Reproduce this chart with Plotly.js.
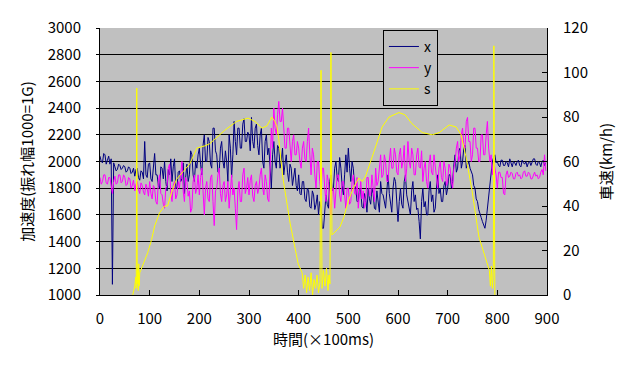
<!DOCTYPE html>
<html>
<head>
<meta charset="utf-8">
<script src="https://cdn.plot.ly/plotly-3.0.1.min.js"></script>
<style>html,body{margin:0;padding:0;background:#fff;}#chart{width:636px;height:378px;}</style>
</head>
<body>
<div id="chart"></div>
<script>
// sampling of the acceleration series: start 0, every 2.5 (x 100ms)
const accelStart = 0;
const accelStep = 2.5;

// x acceleration (t = 0 .. 897.5)
const xValues = [
  2040, 2000, 1990, 2060, 2050, 1980, 2010, 2040, 1980, 2020,
  1080, 1990, 1960, 1930, 1940, 1980, 1970, 1940, 1950, 1970,
  1960, 1920, 1930, 1960, 1950, 1910, 1920, 1950, 1890, 1940,
  1950, 1880, 1860, 1930, 1920, 1870, 2150, 1900, 1880, 1980,
  1990, 1870, 1850, 1980, 2060, 1900, 1900, 1820, 1800, 1960,
  1950, 1870, 2000, 1850, 1780, 1940, 1900, 2020, 1850, 1960,
  2020, 1800, 1800, 1920, 1930, 1850, 1870, 1990, 1760, 1880,
  1980, 1850, 1900, 2080, 2050, 1900, 1850, 2000, 1950, 2050,
  2100, 1980, 1900, 2120, 2200, 2000, 2000, 2180, 2150, 1980,
  1950, 2250, 2250, 2080, 2050, 1920, 1920, 2100, 2150, 2000,
  1950, 2080, 2000, 1850, 2200, 2100, 1880, 2050, 2300, 2150,
  2050, 2250, 2250, 2100, 2100, 2280, 2320, 2150, 2150, 2220,
  2200, 2080, 2330, 2150, 2100, 2250, 2280, 2120, 2050, 2200,
  2250, 2000, 1950, 2150, 2200, 2050, 2100, 1950, 1800, 2050,
  2150, 2000, 1950, 2120, 2100, 1950, 2000, 2100, 1900, 1980,
  2050, 1920, 1850, 1980, 1950, 1820, 1880, 1950, 1820, 1780,
  1900, 1760, 1750, 1850, 1850, 1720, 1700, 1800, 1780, 1660,
  1650, 1780, 1750, 1640, 1680, 1750, 1600, 1700, 1650, 1500,
  1500, 1620, 1750, 1680, 1650, 1850, 1900, 1780, 1800, 1950,
  2000, 1880, 1850, 2030, 1950, 1820, 1750, 1900, 2050, 1920,
  2100, 1950, 1850, 2000, 1950, 1820, 1800, 1700, 1700, 1800,
  1780, 1660, 1650, 1760, 1720, 1620, 1800, 1720, 1680, 1800,
  1760, 1650, 1640, 1780, 1700, 1620, 1850, 1760, 1750, 1680,
  1650, 1780, 1900, 1760, 1700, 1620, 1800, 1880, 1850, 1720,
  1550, 1700, 1800, 1680, 1650, 1850, 1900, 1750, 1700, 1620,
  1600, 1780, 1850, 1700, 1750, 1640, 1650, 1550, 1420, 1700,
  1800, 1660, 1700, 1600, 1600, 1780, 1850, 1700, 1750, 1620,
  1650, 1800, 1900, 1760, 1800, 1700, 1700, 1820, 1850, 1750,
  1800, 1900, 1900, 1800, 1850, 1980, 2050, 1920, 1950, 2080,
  2100, 1950, 2000, 2100, 2120, 1950, 1980, 2000, 1950, 1920,
  1900, 1820, 1800, 1720, 1700, 1640, 1600, 1580, 1550, 1520,
  1500, 1560, 1650, 1750, 1850, 1950, 2000, 2030, 2050, 1990,
  2000, 1970, 1960, 2010, 2010, 1970, 1970, 2000, 1990, 1960,
  2020, 1990, 1960, 2000, 1990, 1970, 2000, 2010, 1970, 1960,
  2010, 1990, 1980, 2000, 1960, 1990, 2000, 1970, 1990, 2020,
  2020, 1980, 1970, 2000, 1990, 1960, 2000, 2010, 1970, 1990
];

// y acceleration (t = 0 .. 897.5)
const yValues = [
  1880, 1830, 1850, 1900, 1900, 1840, 1830, 1880, 1880, 1820,
  1760, 1850, 1890, 1830, 1840, 1900, 1900, 1840, 1850, 1900,
  1880, 1820, 1830, 1880, 1870, 1800, 1820, 1860, 1780, 1830,
  1850, 1790, 1760, 1840, 1820, 1770, 1750, 1830, 1800, 1740,
  1850, 1760, 1720, 1820, 1800, 1700, 1680, 1850, 1900, 1760,
  1750, 1680, 1650, 1800, 1820, 1950, 1980, 1760, 1700, 1820,
  1850, 1720, 1750, 1850, 1800, 1900, 2000, 1780, 1700, 1880,
  1850, 1740, 1780, 1620, 1650, 1850, 1900, 1760, 1800, 1900,
  1750, 1880, 1950, 1780, 1600, 1800, 1850, 1720, 1700, 1880,
  1900, 1700, 1520, 1780, 1800, 1900, 1950, 1760, 1700, 1820,
  1850, 1700, 1750, 1850, 1650, 1780, 1900, 1750, 1800, 1650,
  1490, 1780, 1850, 1700, 1700, 1900, 1950, 1760, 1800, 1880,
  1750, 1860, 1900, 1740, 1700, 1820, 1850, 1760, 1800, 1900,
  1950, 1800, 1750, 1900, 1850, 1720, 1700, 1950, 2250, 2100,
  2400, 2250, 2200, 2350, 2450, 2300, 2300, 2400, 2200, 2100,
  2100, 2250, 2250, 2100, 2000, 2150, 2200, 2050, 2050, 2150,
  2100, 2000, 1950, 2100, 2150, 2020, 2000, 2150, 2250, 2050,
  1900, 2100, 2050, 1900, 1800, 2000, 2000, 1850, 1750, 1950,
  1950, 1800, 1700, 1900, 1850, 1700, 1600, 1800, 1800, 1650,
  1750, 1900, 1900, 1750, 1700, 1850, 1850, 1720, 1650, 1800,
  1800, 1680, 1700, 1850, 1900, 1760, 1750, 1880, 1650, 1760,
  1850, 1720, 1780, 1650, 1700, 1880, 1880, 1740, 1750, 1900,
  1800, 1700, 1950, 1820, 1850, 1980, 2050, 1880, 1900, 2050,
  2000, 1850, 1850, 2000, 2100, 1950, 1950, 2100, 2050, 1920,
  1900, 2050, 2100, 1950, 2000, 2120, 1850, 1950, 2150, 2000,
  1950, 2100, 2050, 1900, 1900, 2050, 2100, 1960, 1950, 2080,
  1850, 1950, 2000, 1850, 1800, 1980, 2050, 1920, 1900, 2050,
  1950, 1850, 1800, 1950, 2000, 1880, 1850, 2000, 1950, 1820,
  1850, 1980, 1950, 1850, 1800, 1950, 2000, 2100, 2150, 2000,
  2050, 2200, 2250, 2120, 2100, 2300, 2330, 2150, 2150, 2000,
  2050, 2250, 2250, 2100, 2100, 2000, 2000, 2200, 2200, 2050,
  2050, 2200, 2300, 2100, 2000, 2050, 1900, 2000, 1950, 1900,
  1800, 1920, 1920, 1880, 1880, 1760, 1750, 1900, 1930, 1880,
  1890, 1920, 1910, 1870, 1870, 1910, 1920, 1890, 1900, 1870,
  1880, 1920, 1930, 1890, 1890, 1920, 1910, 1870, 1870, 1900,
  1920, 1890, 1900, 1870, 1880, 1920, 1940, 1900, 2050, 1930
];

// vehicle speed s (km/h)
const sTime = [
  66, 70, 72, 73, 74, 75, 76, 77, 78, 79, 80, 82, 96, 104, 110, 120, 130, 136, 144, 154,
  166, 181, 195, 211, 221, 231, 251, 275, 298, 312, 326, 336, 346, 352, 356, 360, 368, 383, 399, 407,
  410, 413, 416, 419, 422, 425, 428, 431, 434, 437, 440, 443, 445, 447, 450, 453, 456, 459, 461, 463,
  465, 467, 477, 483, 491, 501, 511, 521, 528, 534, 548, 568, 582, 602, 614, 628, 649, 669, 683, 703,
  717, 727, 737, 749, 763, 778, 784, 786, 788, 790, 792, 793, 795
];
const sValues = [
  0, 4, 8, 3, 93, 5, 12, 2, 14, 4, 10, 11, 19, 25, 31, 37, 40, 40, 46, 52,
  55, 59, 66, 67, 68, 70, 74, 78, 79.5, 78, 75, 76, 80, 78, 76, 70, 53, 32, 14, 10,
  3, 9, 1, 8, 2, 10, 0, 7, 3, 9, 1, 6, 101, 3, 11, 4, 12, 2, 9, 5,
  109, 27, 29, 30.5, 35, 43, 48.5, 52.6, 51, 53, 62, 75.5, 80, 82, 81, 77, 73, 72, 73, 76.4,
  75.5, 72, 62, 47, 26, 15.7, 11, 4, 13, 3, 12, 112, 0
];

const seriesNames = ['x', 'y', 's'];
const xTickVals = [0, 100, 200, 300, 400, 500, 600, 700, 800, 900];

const FONT = '"Noto Sans CJK JP", "Noto Sans", sans-serif';

const traces = [
  {type: 'scatter', mode: 'lines', name: seriesNames[0], x0: accelStart, dx: accelStep, y: xValues,
   line: {color: '#000080', width: 1}},
  {type: 'scatter', mode: 'lines', name: seriesNames[1], x0: accelStart, dx: accelStep, y: yValues,
   line: {color: '#FF00FF', width: 1}},
  {type: 'scatter', mode: 'lines', name: seriesNames[2], x: sTime, y: sValues, yaxis: 'y2',
   line: {color: '#FFFF00', width: 1}}
];

const layout = {
  width: 636, height: 378,
  margin: {l: 100, r: 89, t: 28, b: 83, pad: 0},
  paper_bgcolor: '#ffffff',
  plot_bgcolor: '#C0C0C0',
  font: {family: FONT, size: 15, color: '#000'},
  showlegend: true,
  legend: {x: 0.633, y: 0.993, xanchor: 'left', yanchor: 'top', bgcolor: '#C0C0C0',
           bordercolor: '#000', borderwidth: 1, font: {family: FONT, size: 14, color: '#000'},
           tracegroupgap: 0, itemwidth: 30},
  xaxis: {range: [0, 900], tickvals: xTickVals, ticktext: xTickVals.map(String),
          showgrid: false, zeroline: false, showline: true, linecolor: '#000', linewidth: 1,
          ticks: 'inside', ticklen: 5, tickcolor: '#000', ticklabelstandoff: 10,
          title: {text: '時間(×100ms)', font: {family: FONT, size: 15}, standoff: 6}},
  yaxis: {range: [1000, 3000], dtick: 200, tick0: 1000, showgrid: true, gridcolor: '#000', gridwidth: 1,
          zeroline: false, showline: true, linecolor: '#000', linewidth: 1,
          ticks: 'outside', ticklen: 3, tickcolor: '#000', ticklabelstandoff: 12,
          title: {text: '加速度(振れ幅1000=1G)', font: {family: FONT, size: 15}, standoff: 10}},
  yaxis2: {range: [0, 120], dtick: 20, tick0: 0, overlaying: 'y', side: 'right', showgrid: false,
           zeroline: false, showline: true, linecolor: '#000', linewidth: 1,
           ticks: 'inside', ticklen: 5, tickcolor: '#000', ticklabelstandoff: 12,
           title: {text: '車速(km/h)', font: {family: FONT, size: 15}, standoff: 14}}
};

Plotly.newPlot('chart', traces, layout, {staticPlot: true, displayModeBar: false});
</script>
</body>
</html>
